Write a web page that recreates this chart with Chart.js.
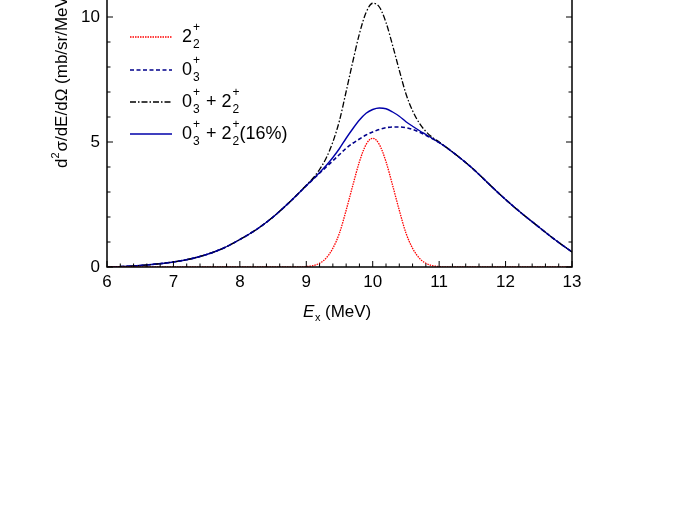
<!DOCTYPE html>
<html><head><meta charset="utf-8">
<script src="https://cdn.jsdelivr.net/npm/chart.js@4"></script>
<style>html,body{margin:0;padding:0;background:#fff;overflow:hidden}
#w{position:absolute;left:0;top:-40px;width:681px;height:566px}</style>
</head><body><div id="w"><canvas id="c"></canvas></div>
<script>
const xBroad=[6.0,6.25,6.5,6.75,7.0,7.25,7.5,7.75,8.0,8.25,8.5,8.75,9.0,9.1,9.2,9.3,9.4,9.5,9.6,9.7,9.8,9.9,10.0,10.1,10.2,10.3,10.4,10.5,10.6,10.7,10.8,10.9,11.0,11.25,11.5,11.75,12.0,12.25,12.5,12.75,13.0];
const yBroad=[0.0,0.02,0.06,0.12,0.2,0.32,0.5,0.75,1.1,1.5,2.0,2.6,3.25,3.5,3.75,4.0,4.25,4.5,4.75,4.95,5.12,5.28,5.4,5.5,5.57,5.6,5.6,5.57,5.5,5.4,5.27,5.13,4.98,4.5,3.95,3.32,2.7,2.13,1.6,1.08,0.6];
const xRed=[6.0,8.9,9.0,9.1,9.2,9.3,9.4,9.5,9.6,9.7,9.8,9.9,10.0,10.1,10.2,10.3,10.4,10.5,10.6,10.7,10.8,10.9,11.0,11.1,13.0];
const yRed=[0,0,0.02,0.05,0.15,0.36,0.75,1.36,2.27,3.26,4.21,4.90,5.15,4.90,4.21,3.26,2.27,1.36,0.75,0.36,0.15,0.05,0.02,0,0];
const yBlack=[0.0,0.02,0.06,0.12,0.2,0.32,0.5,0.75,1.1,1.5,2.0,2.6,3.27,3.55,3.9,4.36,5.0,5.86,7.02,8.21,9.33,10.18,10.55,10.4,9.78,8.86,7.87,6.93,6.25,5.76,5.42,5.18,5.0,4.5,3.95,3.32,2.7,2.13,1.6,1.08,0.6];
const yBlue=[0.0,0.02,0.06,0.12,0.2,0.32,0.5,0.75,1.1,1.5,2.0,2.6,3.25,3.51,3.78,4.06,4.38,4.74,5.15,5.53,5.88,6.15,6.3,6.36,6.33,6.2,6.03,5.81,5.63,5.46,5.3,5.14,4.98,4.5,3.95,3.32,2.7,2.13,1.6,1.08,0.6];
const xTicks=[6,7,8,9,10,11,12,13];
const yTicks=[0,5,10];
const legendItems=[["2","2",""],["0","3",""],["0","3"," + 2|2"],["0","3"," + 2|2|(16%)"]];
const pts=(xs,ys)=>xs.map((x,i)=>({x:x,y:ys[i]}));
const F='"Liberation Sans", Arial, sans-serif';
const ds=[
 {data:pts(xRed,yRed),borderColor:'#ff0000',borderWidth:1.3,borderDash:[1.5,1]},
 {data:pts(xBroad,yBroad),borderColor:'#00008b',borderWidth:1.6,borderDash:[4,2.5]},
 {data:pts(xBroad,yBlack),borderColor:'#000',borderWidth:1.3,borderDash:[6,2,1.5,2]},
 {data:pts(xBroad,yBlue),borderColor:'#0000aa',borderWidth:1.4}
];
ds.forEach(d=>{d.pointRadius=0;d.cubicInterpolationMode='monotone';d.fill=false;});
function sup(ctx,x,y,base,supT,subT){
 ctx.font='18px '+F;ctx.fillText(base,x,y);let w=ctx.measureText(base).width;
 ctx.font='12px '+F;ctx.fillText(supT,x+w+1,y-9);ctx.fillText(subT,x+w+1,y+8);
 return x+w+9;
}
const deco={id:'deco',afterDraw(ch){
 const c=ch.ctx,xs=ch.scales.x,ys=ch.scales.y,a=ch.chartArea;
 c.save();c.strokeStyle='#000';c.lineWidth=1.5;
 c.beginPath();c.moveTo(a.left,a.top);c.lineTo(a.left,a.bottom);c.lineTo(a.right,a.bottom);c.lineTo(a.right,a.top);c.stroke();
 c.lineWidth=1;c.beginPath();
 for(let v=6;v<=13.001;v+=0.2){const p=xs.getPixelForValue(v);const maj=Math.abs(v-Math.round(v))<1e-6;c.moveTo(p,a.bottom);c.lineTo(p,a.bottom-(maj?6:3.5));}
 for(let v=0;v<=12.001;v+=1){const p=ys.getPixelForValue(v);const maj=v%5===0;c.moveTo(a.left,p);c.lineTo(a.left+(maj?6:3.5),p);c.moveTo(a.right,p);c.lineTo(a.right-(maj?6:3.5),p);}
 c.stroke();
 c.fillStyle='#000';c.font='17px '+F;c.textAlign='center';c.textBaseline='top';
 xTicks.forEach(v=>c.fillText(String(v),xs.getPixelForValue(v),a.bottom+7));
 c.textAlign='right';c.textBaseline='middle';
 yTicks.forEach(v=>c.fillText(String(v),a.left-7,ys.getPixelForValue(v)));
 c.textAlign='left';c.textBaseline='alphabetic';
 const ty=a.bottom+50;c.font='italic 17px '+F;c.fillText('E',303,ty);
 c.font='11px '+F;c.fillText('x',315,ty+4);c.font='17px '+F;c.fillText('(MeV)',325,ty);
 c.save();c.translate(67,168+40);c.rotate(-Math.PI/2);c.font='17px '+F;
 c.fillText('d',0,0);let w=c.measureText('d').width;c.font='11px '+F;c.fillText('2',w,-8);
 c.font='17px '+F;c.fillText('σ/dE/dΩ (mb/sr/MeV)',w+7,0);c.restore();
 const ly=[37,70,102,134];
 ly.forEach((yy,i)=>{const Y=yy+40;const d=ds[i];c.strokeStyle=d.borderColor;c.lineWidth=d.borderWidth;c.setLineDash(d.borderDash||[]);
  c.beginPath();c.moveTo(130,Y);c.lineTo(172,Y);c.stroke();c.setLineDash([]);
  c.fillStyle='#000';c.textBaseline='middle';
  const it=legendItems[i];let x=sup(c,182,Y,it[0],'+',it[1]);
  if(it[2]){const parts=it[2].split('|');c.font='18px '+F;c.fillText(parts[0],x,Y);x+=c.measureText(parts[0]).width;
   x=sup(c,x,Y,'','+',parts[1]);if(parts[2]){c.font='18px '+F;c.fillText(parts[2],x-1,Y);}}
 });
 c.restore();
}};
new Chart(document.getElementById('c'),{type:'line',data:{datasets:ds},plugins:[deco],
 options:{responsive:true,maintainAspectRatio:false,animation:false,
  layout:{padding:{top:7,right:109,left:0,bottom:209}},
  plugins:{legend:{display:false},tooltip:{enabled:false}},
  scales:{
   x:{type:'linear',min:6,max:13,grid:{display:false},border:{display:false},ticks:{display:false},afterFit(s){s.height=50;}},
   y:{min:0,max:12,grid:{display:false},border:{display:false},ticks:{display:false},afterFit(s){s.width=107;}}
  }}});
</script></body></html>
